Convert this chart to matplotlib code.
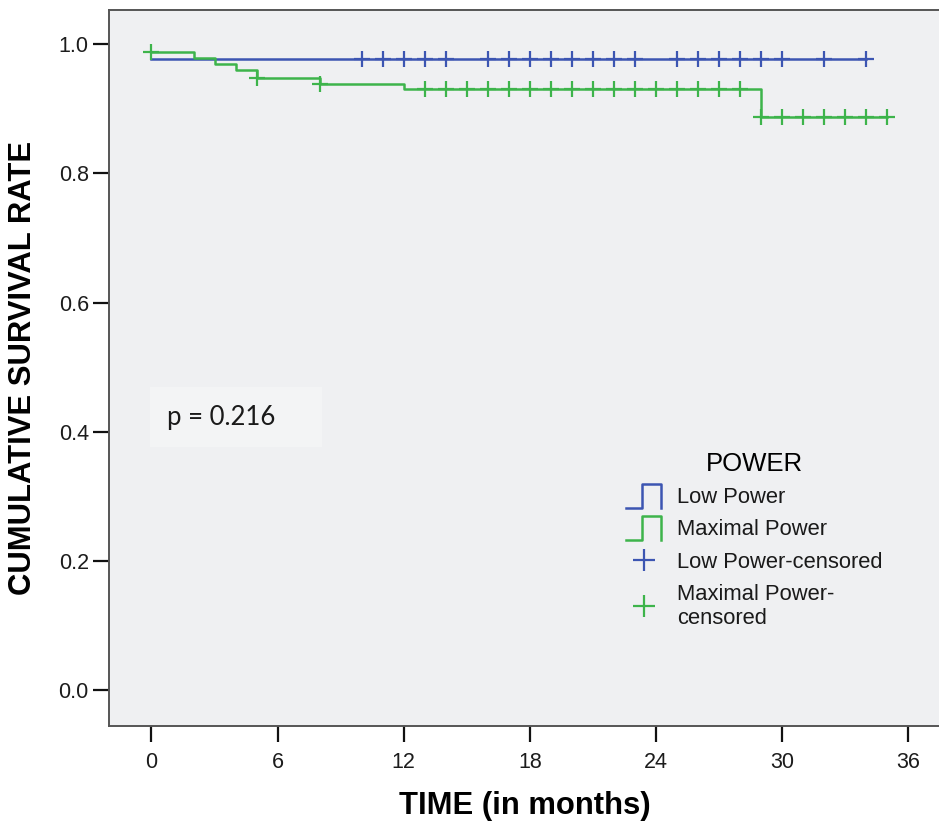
import matplotlib
matplotlib.use("Agg")
import matplotlib.pyplot as plt
from matplotlib.lines import Line2D
from matplotlib.patches import Rectangle
from matplotlib.legend_handler import HandlerBase

plt.rcParams["font.family"] = ["Liberation Sans", "DejaVu Sans"]

# =========================
# データ (Kaplan-Meier)
# =========================
low_times = [0, 34]
low_surv = [0.977, 0.977]
low_cens_t = [10, 11, 12, 13, 14, 16, 17, 18, 19, 20, 21, 22, 23,
              25, 26, 27, 28, 29, 30, 32, 34]

max_times = [0, 2, 3, 4, 5, 8, 12, 29, 35]
max_surv = [0.988, 0.978, 0.969, 0.960, 0.948, 0.939, 0.930, 0.887, 0.887]
max_cens_t = [0, 5, 8, 13, 14, 15, 16, 17, 18, 19, 20, 21, 22, 23, 24,
              25, 26, 27, 28, 29, 30, 31, 32, 33, 34, 35]

x_ticks = [0, 6, 12, 18, 24, 30, 36]
y_ticks = [0.0, 0.2, 0.4, 0.6, 0.8, 1.0]
p_text = "p = 0.216"

BLUE = "#3C55B2"
GREEN = "#3DB44B"


def surv_at(times, surv, t):
    # 打ち切り時点の生存率 (右連続)
    val = surv[0]
    for tt, s in zip(times, surv):
        if tt <= t:
            val = s
    return val


class StepHandler(HandlerBase):
    def create_artists(self, legend, orig_handle, xdescent, ydescent,
                       width, height, fontsize, trans):
        x0 = -xdescent
        y0 = -ydescent - 0.25 * height
        h = height * 1.45
        xs = [x0, x0 + 0.45 * width, x0 + 0.45 * width, x0 + width, x0 + width]
        ys = [y0, y0, y0 + h, y0 + h, y0]
        line = Line2D(xs, ys, color=orig_handle.get_color(), lw=1.8)
        line.set_transform(trans)
        return [line]


fig = plt.figure(figsize=(9.39, 8.23), dpi=100)
ax = fig.add_axes([109 / 939, 97 / 823, 831 / 939, 716 / 823])
ax.set_facecolor("#EFF0F2")

ax.step(low_times, low_surv, where="post", color=BLUE, lw=1.8)
ax.step(max_times, max_surv, where="post", color=GREEN, lw=1.8)

ax.plot(low_cens_t, [surv_at(low_times, low_surv, t) for t in low_cens_t],
        linestyle="none", marker="+", markersize=11, mew=1.6, color=BLUE)
ax.plot(max_cens_t, [surv_at(max_times, max_surv, t) for t in max_cens_t],
        linestyle="none", marker="+", markersize=11, mew=1.6, color=GREEN)

ax.set_xlim(-2.02, 37.5)
ax.set_ylim(-0.0558, 1.0531)
ax.set_xticks(x_ticks)
ax.set_yticks(y_ticks)
ax.set_yticklabels([f"{v:.1f}" for v in y_ticks])
ax.tick_params(axis="both", direction="out", length=11.5, width=1.6,
               color="#111111", labelsize=15.5, labelcolor="#1c1c1c")
ax.tick_params(axis="x", pad=7)
ax.tick_params(axis="y", pad=3)
for s in ["left", "bottom", "top"]:
    ax.spines[s].set_color("#555555")
    ax.spines[s].set_linewidth(1.4)
ax.spines["right"].set_visible(False)

ax.set_xlabel("TIME (in months)", fontsize=22.3, fontweight="bold", labelpad=13)
ax.set_ylabel("CUMULATIVE SURVIVAL RATE", fontsize=22.3, fontweight="bold", labelpad=15)

# p値ボックス
ax.add_patch(Rectangle((-0.05, 0.376), 8.18, 0.093, facecolor="#F3F4F5",
                       edgecolor="none", zorder=1))
ax.text(0.75, 0.4225, p_text, fontsize=18.5, family=["Lato", "DejaVu Sans"],
        color="#1a1a1a", va="center", ha="left", zorder=2)

# 凡例
h_low = Line2D([], [], color=BLUE)
h_max = Line2D([], [], color=GREEN)
h_lc = Line2D([], [], color=BLUE, marker="+", linestyle="none", markersize=16, mew=1.6)
h_mc = Line2D([], [], color=GREEN, marker="+", linestyle="none", markersize=16, mew=1.6)
leg = ax.legend([h_low, h_max, h_lc, h_mc],
                ["Low Power", "Maximal Power", "Low Power-censored",
                 "Maximal Power-\ncensored"],
                handler_map={h_low: StepHandler(), h_max: StepHandler()},
                title="POWER", title_fontsize=18.5, fontsize=15.8,
                frameon=False, loc="upper left", bbox_to_anchor=(0.609, 0.398),
                borderpad=0, handlelength=1.6, handleheight=0.8,
                handletextpad=0.73, labelspacing=0.51)
for t in leg.get_texts():
    t.set_color("#1a1a1a")
    t.set_linespacing(1.2)

fig.savefig("out.png", dpi=100)
